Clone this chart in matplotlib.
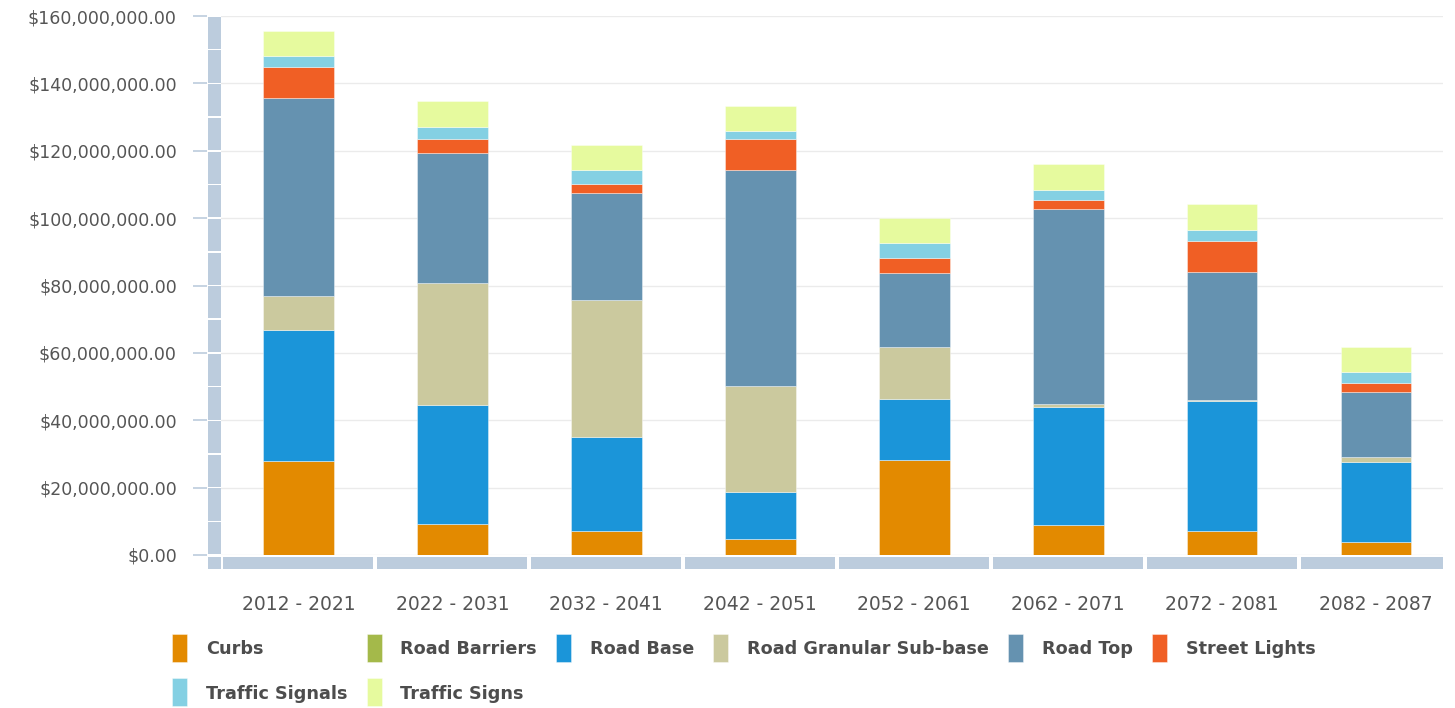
import matplotlib
matplotlib.use("Agg")
import matplotlib.pyplot as plt
import numpy as np
from matplotlib.patches import Rectangle
from matplotlib.transforms import blended_transform_factory
from matplotlib.legend_handler import HandlerPatch
from matplotlib.ticker import FuncFormatter, MultipleLocator

plt.rcParams['font.family'] = ['DejaVu Sans']

# ---------------- data (values in millions of dollars) ----------------
categories = ["2012 - 2021", "2022 - 2031", "2032 - 2041", "2042 - 2051",
              "2052 - 2061", "2062 - 2071", "2072 - 2081", "2082 - 2087"]
curbs            = [27.9, 9.2, 7.1, 4.7, 28.2, 8.9, 7.1, 4.0]
road_barriers    = [0.0, 0.0, 0.0, 0.0, 0.0, 0.0, 0.0, 0.0]
road_base        = [38.9, 35.3, 27.9, 14.0, 18.1, 35.0, 38.6, 23.7]
road_granular    = [10.1, 36.2, 40.7, 31.4, 15.4, 0.9, 0.3, 1.5]
road_top         = [58.7, 38.6, 31.7, 64.1, 22.0, 57.9, 38.0, 19.3]
street_lights    = [9.2, 4.1, 2.7, 9.2, 4.4, 2.6, 9.2, 2.5]
traffic_signals  = [3.3, 3.6, 4.1, 2.4, 4.5, 3.0, 3.2, 3.3]
traffic_signs    = [7.4, 7.7, 7.5, 7.4, 7.4, 7.7, 7.8, 7.4]

series_names = ["Curbs", "Road Barriers", "Road Base", "Road Granular Sub-base",
                "Road Top", "Street Lights", "Traffic Signals", "Traffic Signs"]
series_values = [curbs, road_barriers, road_base, road_granular, road_top,
                 street_lights, traffic_signals, traffic_signs]
series_colors = ["#E38A00", "#A4B94A", "#1B95D9", "#CBC99E",
                 "#6592B0", "#F05F25", "#84D0E3", "#E6FA9E"]
SCALE = 1e6

# ---------------- figure ----------------
W, H = 1455, 708
fig = plt.figure(figsize=(W / 100, H / 100), dpi=100)
ax_l, ax_r, ax_t, ax_b = 221.5, 1443, 16, 555
ax = fig.add_axes([ax_l / W, 1 - ax_b / H, (ax_r - ax_l) / W, (ax_b - ax_t) / H])
ax_wpx = ax_r - ax_l
ax_hpx = ax_b - ax_t

x = np.arange(len(categories))
bottom = np.zeros(len(categories))
for name, vals, col in zip(series_names, series_values, series_colors):
    v = np.array(vals) * SCALE
    ax.bar(x, v, width=0.46, bottom=bottom, color=col,
           edgecolor=(1, 1, 1, 0.45), linewidth=0.6, label=name, zorder=3)
    bottom += v

ymax = 160e6
ax.set_ylim(0, ymax)
ax.set_xlim(-0.5, len(categories) - 0.5 - 10 / 154)

for s in ax.spines.values():
    s.set_visible(False)
ax.spines['left'].set_position(('outward', 14 * 0.72))

ax.yaxis.set_major_locator(MultipleLocator(20e6))
ax.yaxis.set_major_formatter(FuncFormatter(lambda v, p: f"${v:,.2f}"))
ax.tick_params(axis='y', direction='out', length=14 * 0.72, width=1.2,
               color="#BCCCDD", pad=12, labelsize=12.5, labelcolor="#555555")
ax.set_xticks(x)
ax.set_xticklabels(categories)
ax.tick_params(axis='x', length=0, pad=28.5, labelsize=13.5, labelcolor="#555555")
ax.yaxis.grid(True, color="#EBEBEB", linewidth=1, zorder=0)
ax.set_axisbelow(True)

strip_col = "#BCCCDD"
# y strip (segments every 10M)
ty = blended_transform_factory(ax.transAxes, ax.transData)
gap_y = 0.75 * ymax / ax_hpx
x0 = (208 - ax_l) / ax_wpx
wstrip = 13 / ax_wpx
for k in range(16):
    ax.add_patch(Rectangle((x0, k * 10e6 + gap_y), wstrip, 10e6 - 2 * gap_y,
                           transform=ty, facecolor=strip_col, edgecolor='none',
                           clip_on=False, zorder=4))
# corner square
ax.add_patch(Rectangle((x0, -(569 - ax_b) / ax_hpx), wstrip, 12 / ax_hpx,
                       transform=ax.transAxes, facecolor=strip_col,
                       edgecolor='none', clip_on=False, zorder=4))
# x strip segments
tx = blended_transform_factory(ax.transData, ax.transAxes)
gx = 2 / 154
xlim_r = ax.get_xlim()[1]
for i in range(len(categories)):
    left = i - 0.5 + gx
    right = min(i + 0.5 - gx, xlim_r)
    ax.add_patch(Rectangle((left, -(569 - ax_b) / ax_hpx), right - left, 12 / ax_hpx,
                           transform=tx, facecolor=strip_col, edgecolor='none',
                           clip_on=False, zorder=4))

# ---------------- legend ----------------
FS = 12.7
PX = FS * 100 / 72  # font size in pixels


def make_patch(legend, orig_handle, xdescent, ydescent, width, height, fontsize):
    htot = height + ydescent
    return Rectangle((-xdescent, 0.36 * fontsize - htot / 2), width, htot)


proxies = [Rectangle((0, 0), 1, 1, facecolor=c, edgecolor=(1, 1, 1, 0.45), linewidth=0.6)
           for c in series_colors]
order = [0, 6, 1, 7, 2, 3, 4, 5]
leg = fig.legend([proxies[i] for i in order], [series_names[i] for i in order],
                 ncol=6, loc='upper left', bbox_to_anchor=(172 / W, 1 - 637 / H),
                 frameon=False, borderpad=0, borderaxespad=0,
                 handlelength=15 / PX, handleheight=28 / PX,
                 handletextpad=19 / PX, columnspacing=19 / PX,
                 labelspacing=22 / PX,
                 prop={'size': FS, 'weight': 'bold'},
                 handler_map={Rectangle: HandlerPatch(patch_func=make_patch)})
for t in leg.get_texts():
    t.set_color("#4D4D4D")

fig.savefig("out.png", dpi=100)
